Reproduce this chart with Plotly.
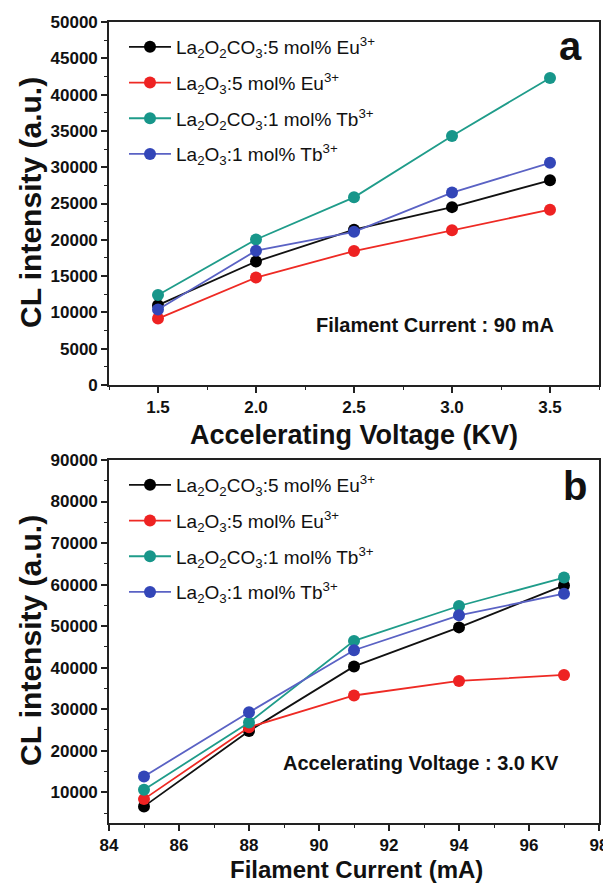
import plotly.graph_objects as go

# ---------------- data ----------------
voltage_kv = [1.5, 2.0, 2.5, 3.0, 3.5]
a_eu_carb = [11000, 17000, 21400, 24500, 28200]
a_eu_oxide = [9150, 14800, 18450, 21300, 24150]
a_tb_carb = [12400, 20050, 25850, 34300, 42300]
a_tb_oxide = [10400, 18500, 21100, 26500, 30600]

current_ma = [85, 88, 91, 94, 97]
b_eu_carb = [6600, 24750, 40300, 49700, 59800]
b_eu_oxide = [8350, 25650, 33300, 36800, 38250]
b_tb_carb = [10600, 26800, 46450, 54850, 61700]
b_tb_oxide = [13800, 29250, 44200, 52600, 57800]

a_xticks = [1.5, 2.0, 2.5, 3.0, 3.5]
a_yticks = [0, 5000, 10000, 15000, 20000, 25000, 30000, 35000, 40000, 45000, 50000]
b_xticks = [84, 86, 88, 90, 92, 94, 96, 98]
b_yticks = [10000, 20000, 30000, 40000, 50000, 60000, 70000, 80000, 90000]

names = [
    "La<sub>2</sub>O<sub>2</sub>CO<sub>3</sub>:5 mol% Eu<sup>3+</sup>",
    "La<sub>2</sub>O<sub>3</sub>:5 mol% Eu<sup>3+</sup>",
    "La<sub>2</sub>O<sub>2</sub>CO<sub>3</sub>:1 mol% Tb<sup>3+</sup>",
    "La<sub>2</sub>O<sub>3</sub>:1 mol% Tb<sup>3+</sup>",
]
line_colors = ["#111111", "#ee2a24", "#1f9c8a", "#5a62c4"]
marker_colors = ["#000000", "#ee2222", "#17968a", "#3346b8"]

FONT = "Liberation Sans, Arial, sans-serif"

fig = go.Figure()

series_a = [a_eu_carb, a_eu_oxide, a_tb_carb, a_tb_oxide]
series_b = [b_eu_carb, b_eu_oxide, b_tb_carb, b_tb_oxide]

for i, ys in enumerate(series_a):
    fig.add_trace(go.Scatter(
        x=voltage_kv, y=ys, name=names[i], mode="lines+markers",
        line=dict(color=line_colors[i], width=1.8),
        marker=dict(color=marker_colors[i], size=12),
        xaxis="x", yaxis="y", legend="legend", legendgroup=f"a{i}",
    ))
for i, ys in enumerate(series_b):
    fig.add_trace(go.Scatter(
        x=current_ma, y=ys, name=names[i], mode="lines+markers",
        line=dict(color=line_colors[i], width=1.8),
        marker=dict(color=marker_colors[i], size=12),
        xaxis="x2", yaxis="y2", legend="legend2", legendgroup=f"b{i}",
    ))

# the page body adds an 8px margin; work in reference pixel coords and shift
OFF = 8
W, H = 611 - OFF, 885 - OFF
ML, MR, MT, MB = 109 - OFF, 12, 22 - OFF, 885 - 823
PW = W - ML - MR
PH = H - MT - MB


def px(xr):
    return (xr - OFF - ML) / PW


def py(yr):
    return (H - MB - (yr - OFF)) / PH


minor_style = dict(ticks="outside", ticklen=3, tickwidth=1.3, tickcolor="#222222")
axis_common = dict(
    showline=True, mirror=True, linecolor="#222222", linewidth=1.6,
    ticks="outside", ticklen=6, tickwidth=1.5, tickcolor="#222222",
    showgrid=False, zeroline=False, automargin=False,
    tickfont=dict(family=FONT, size=17, color="#111111"),
    tickmode="array",
)


def bt(vals, fmt):
    return [f"<b>{fmt(v)}</b>" for v in vals]


top_dom = [py(385), 1.0]
bot_dom = [0.0, py(460)]

fig.update_layout(
    width=W, height=H,
    margin=dict(l=ML, r=MR, t=MT, b=MB, autoexpand=False),
    paper_bgcolor="white", plot_bgcolor="white",
    showlegend=True,
    xaxis=dict(axis_common, domain=[0, 1], range=[1.25, 3.75], anchor="y",
               tickvals=a_xticks, ticktext=bt(a_xticks, lambda v: f"{v:.1f}"),
               minor=dict(minor_style, dtick=0.25, tick0=1.25)),
    yaxis=dict(axis_common, domain=top_dom, range=[0, 50000], anchor="x",
               tickvals=a_yticks, ticktext=bt(a_yticks, lambda v: f"{v:d}"),
               minor=dict(minor_style, dtick=2500, tick0=0)),
    xaxis2=dict(axis_common, domain=[0, 1], range=[84, 98], anchor="y2",
                tickvals=b_xticks, ticktext=bt(b_xticks, lambda v: f"{v:d}"),
                minor=dict(minor_style, dtick=1, tick0=84)),
    yaxis2=dict(axis_common, domain=bot_dom, range=[2600, 90000], anchor="x2",
                tickvals=b_yticks, ticktext=bt(b_yticks, lambda v: f"{v:d}"),
                minor=dict(minor_style, dtick=5000, tick0=0)),
    legend=dict(
        x=px(124), y=py(28), xanchor="left", yanchor="top",
        bgcolor="rgba(0,0,0,0)", borderwidth=0,
        font=dict(family=FONT, size=19, color="#111111"),
        itemwidth=42, traceorder="grouped", tracegroupgap=8,
    ),
    legend2=dict(
        x=px(124), y=py(466), xanchor="left", yanchor="top",
        bgcolor="rgba(0,0,0,0)", borderwidth=0,
        font=dict(family=FONT, size=19, color="#111111"),
        itemwidth=42, traceorder="grouped", tracegroupgap=8,
    ),
)


def bold(s):
    return dict(family=FONT, size=s, color="#111111", weight="bold")


annotations = [
    dict(text="Accelerating Voltage (KV)", x=px(354), y=py(435), font=bold(27)),
    dict(text="Filament Current (mA)", x=px(356), y=py(869.5), font=bold(24)),
    dict(text="CL intensity (a.u.)", x=px(30), y=py(203), font=bold(30), textangle=-90),
    dict(text="CL intensity (a.u.)", x=px(30), y=py(641), font=bold(30), textangle=-90),
    dict(text="a", x=px(570), y=py(46), font=bold(40)),
    dict(text="b", x=px(575), y=py(486), font=bold(40)),
    dict(text="Filament Current : 90 mA", x=px(435), y=py(325), font=bold(20)),
    dict(text="Accelerating Voltage : 3.0 KV", x=px(421), y=py(763), font=bold(20)),
]
for a in annotations:
    a.update(xref="paper", yref="paper", showarrow=False, xanchor="center", yanchor="middle")
fig.update_layout(annotations=annotations)

fig.write_html("out.html")
